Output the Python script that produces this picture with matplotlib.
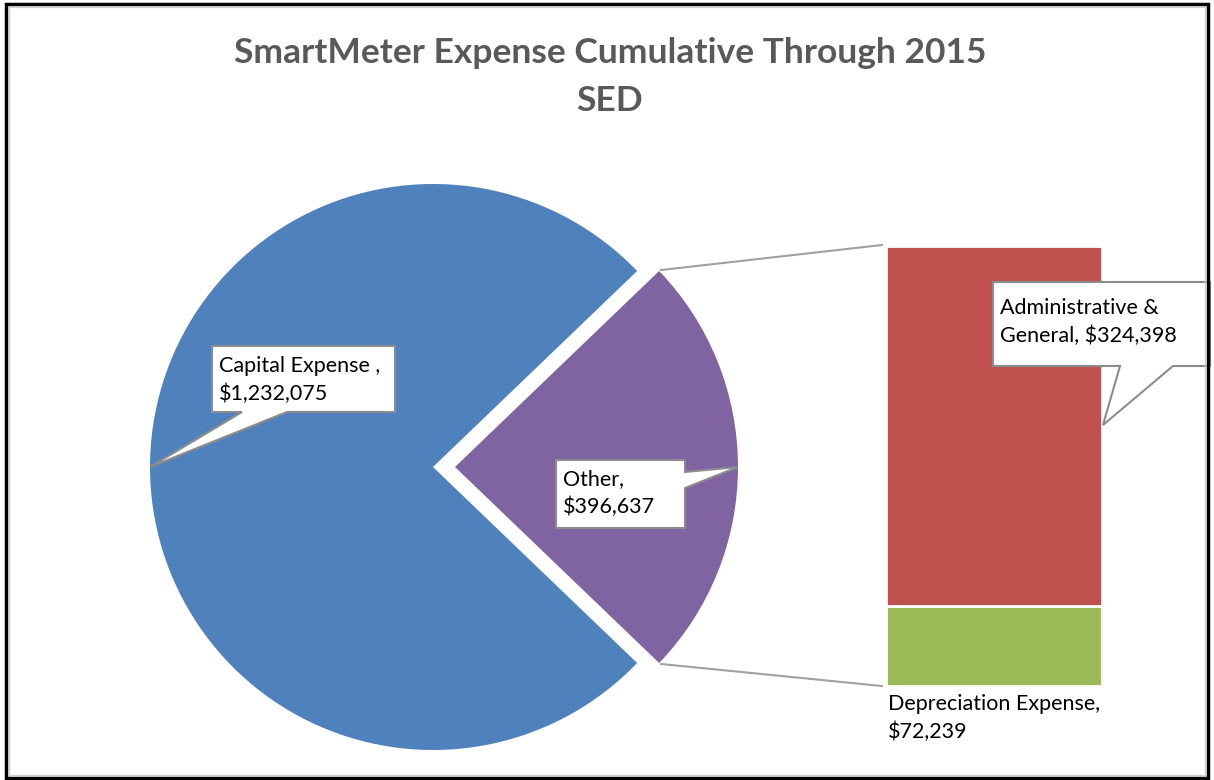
import matplotlib.pyplot as plt
from matplotlib.patches import Polygon, Rectangle
import numpy as np

# ----------------------------------------------------------------------
# data
# ----------------------------------------------------------------------
pie_labels = ["Other", "Capital Expense "]
pie_values = [396637, 1232075]
bar_labels = ["Depreciation Expense", "Administrative & General"]
bar_values = [72239, 324398]

title = "SmartMeter Expense Cumulative Through 2015\nSED"

blue = "#4F81BD"
purple = "#8064A2"
red = "#C0504D"
green = "#9BBB59"
edge_gray = "#8C8C8C"

W, H = 1214, 780
fig = plt.figure(figsize=(W / 100, H / 100), dpi=100)
ax = fig.add_axes([0, 0, 1, 1])

plt.rcParams["font.family"] = ["Lato", "DejaVu Sans"]

# ----------------------------------------------------------------------
# pie (pixel coords, y pointing up)
# ----------------------------------------------------------------------
cx, cy, r = 433, H - 467, 283
explode_px = 22
other_frac = pie_values[0] / sum(pie_values)
half = 180 * other_frac
ax.pie(pie_values, colors=[purple, blue], startangle=-half, counterclock=True,
       explode=[explode_px, 0], radius=r, center=(cx, cy), frame=False)

# purple wedge geometry for connectors / callout tips
pcx = cx + explode_px
top_pt = (pcx + r * np.cos(np.radians(half)), cy + r * np.sin(np.radians(half)))
bot_pt = (pcx + r * np.cos(np.radians(-half)), cy + r * np.sin(np.radians(-half)))

# ----------------------------------------------------------------------
# stacked bar (pie of pie)
# ----------------------------------------------------------------------
bar_left, bar_w = 886, 216
bar_bottom, bar_top = H - 686, H - 246
scale = (bar_top - bar_bottom) / sum(bar_values)
bottom = bar_bottom
for val, col in zip(bar_values, [green, red]):
    ax.bar(bar_left + bar_w / 2, val * scale, width=bar_w, bottom=bottom,
           color=col, edgecolor="white", linewidth=2)
    bottom += val * scale

ax.plot([top_pt[0] + 2, bar_left - 4], [top_pt[1] + 1, bar_top + 1],
        color="#A0A0A0", lw=1.5)
ax.plot([bot_pt[0] + 2, bar_left - 4], [bot_pt[1] - 1, bar_bottom],
        color="#A0A0A0", lw=1.5)


# ----------------------------------------------------------------------
# callouts
# ----------------------------------------------------------------------
def callout(x0, y0, x1, y1, side, b0, b1, tip):
    """White box (pixel coords, y down) with a pointer on one side."""
    X0, X1 = x0, x1
    Y0, Y1 = H - y0, H - y1  # Y0 top, Y1 bottom
    tx, ty = tip
    if side == "bottom":
        pts = [(X0, Y0), (X1, Y0), (X1, Y1), (b1, Y1), (tx, ty), (b0, Y1), (X0, Y1)]
    else:  # right
        pts = [(X0, Y0), (X1, Y0), (X1, H - b0), (tx, ty), (X1, H - b1), (X1, Y1), (X0, Y1)]
    ax.add_patch(Polygon(pts, closed=True, facecolor="white", edgecolor=edge_gray,
                         lw=1.5, zorder=5))


fs = 15.5
ls = 1.45
callout(212, 346, 395, 412, "bottom", 242, 287, (cx - r, cy))
ax.text(219, H - 356, f"{pie_labels[1]},\n${pie_values[1]:,}", fontsize=fs,
        va="top", ha="left", zorder=6, linespacing=ls)

callout(556, 460, 685, 528, "right", 472, 488, (pcx + r, cy))
ax.text(563, H - 469, f"{pie_labels[0]},\n${pie_values[0]:,}", fontsize=fs,
        va="top", ha="left", zorder=6, linespacing=ls)

callout(993, 282, 1210, 366, "bottom", 1120, 1173, (bar_left + bar_w + 1, H - 425))
ax.text(1000, H - 298, f"Administrative &\nGeneral, ${bar_values[1]:,}", fontsize=fs,
        va="top", ha="left", zorder=6, linespacing=ls)

ax.text(888, H - 694, f"{bar_labels[0]},\n${bar_values[0]:,}", fontsize=fs,
        va="top", ha="left", zorder=6, linespacing=ls)

# ----------------------------------------------------------------------
# title and frame
# ----------------------------------------------------------------------
ax.text(W / 2 + 3, H - 77, title, fontsize=25.5, fontweight="bold", color="#595959",
        ha="center", va="center", linespacing=1.6)

ax.add_patch(Rectangle((6, 2), W - 12, H - 6, fill=False, edgecolor="black", lw=2.5, zorder=10))
ax.add_patch(Rectangle((9, 5), W - 18, H - 12, fill=False, edgecolor="#D0D0D0", lw=1, zorder=10))

ax.set_xlim(0, W)
ax.set_ylim(0, H)
ax.set_aspect("equal")
ax.axis("off")

fig.savefig("out.png", dpi=100)
